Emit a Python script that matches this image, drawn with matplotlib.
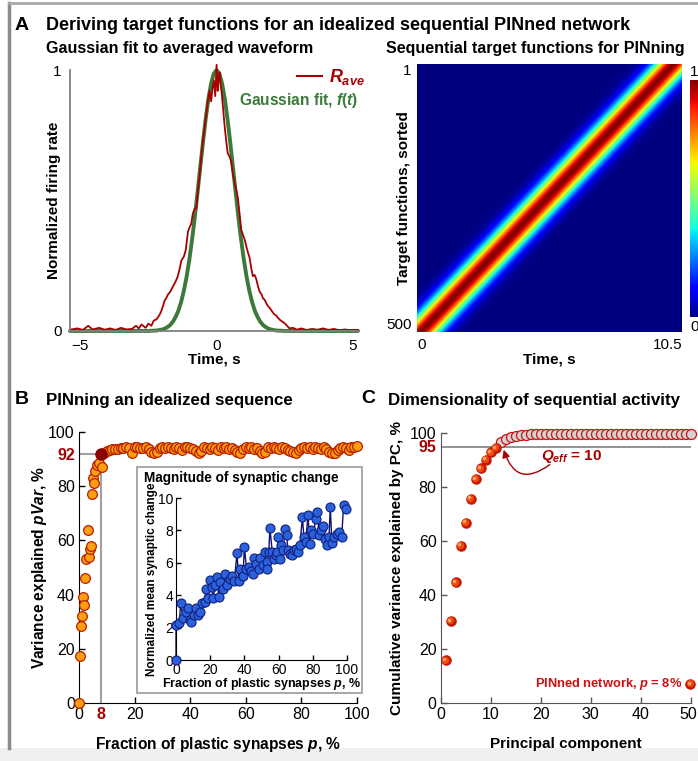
import numpy as np
import matplotlib
matplotlib.use("Agg")
import matplotlib.pyplot as plt
from matplotlib.patches import Rectangle
from matplotlib.transforms import offset_copy, ScaledTranslation

plt.rcParams['font.family'] = ['Liberation Sans', 'DejaVu Sans']
plt.rcParams['mathtext.fontset'] = 'custom'
plt.rcParams['mathtext.it'] = 'Liberation Sans:italic:bold'
plt.rcParams['mathtext.rm'] = 'Liberation Sans:bold'
plt.rcParams['mathtext.bf'] = 'Liberation Sans:bold'

# ---------------- data ----------------
# Panel A left: averaged waveform R_ave
rave_t = [-5.37, -5.1, -4.9, -4.7, -4.55, -4.3, -4.1, -3.9, -3.7, -3.5, -3.3, -3.1, -2.95, -2.85,
          -2.75, -2.6, -2.5, -2.39, -2.3, -2.2, -2.1, -2.03, -1.95, -1.9, -1.85, -1.78, -1.7, -1.6,
          -1.5, -1.42, -1.35, -1.29, -1.2, -1.13, -1.05, -0.98, -0.93, -0.87, -0.8, -0.74, -0.68,
          -0.62, -0.56, -0.5, -0.44, -0.38, -0.32, -0.26, -0.2, -0.15, -0.1, -0.05, 0.0, 0.04, 0.08,
          0.11, 0.15, 0.19, 0.24, 0.29, 0.35, 0.41, 0.47, 0.53, 0.6, 0.66, 0.72, 0.78, 0.84, 0.9,
          0.96, 1.03, 1.1, 1.15, 1.21, 1.27, 1.33, 1.39, 1.45, 1.52, 1.58, 1.65, 1.7, 1.76, 1.85,
          1.93, 2.0, 2.1, 2.18, 2.25, 2.35, 2.42, 2.49, 2.58, 2.67, 2.8, 2.95, 3.1, 3.3, 3.5, 3.7,
          3.9, 4.1, 4.3, 4.5, 4.7, 4.9, 5.18]
rave_v = [0.005, 0.01, 0.004, 0.02, 0.006, 0.012, 0.005, 0.01, 0.004, 0.012, 0.006, 0.008, 0.02, 0.01,
          0.025, 0.012, 0.028, 0.02, 0.04, 0.045, 0.06, 0.075, 0.1, 0.118, 0.125, 0.14, 0.15, 0.17,
          0.19, 0.21, 0.24, 0.27, 0.285, 0.31, 0.38, 0.4, 0.41, 0.45, 0.47, 0.47, 0.54,
          0.6, 0.67, 0.73, 0.78, 0.83, 0.88, 0.92, 0.88, 0.93, 0.96, 0.9, 1.02, 0.92, 0.97,
          0.99, 0.94, 0.91, 0.85, 0.79, 0.73, 0.68, 0.67, 0.65, 0.6, 0.57, 0.54, 0.51, 0.45, 0.39,
          0.37, 0.35, 0.32, 0.3, 0.28, 0.24, 0.21, 0.215, 0.2, 0.17, 0.15, 0.14, 0.125, 0.12, 0.1,
          0.09, 0.08, 0.065, 0.06, 0.05, 0.04, 0.035, 0.03, 0.02, 0.01, 0.012, 0.005, 0.01, 0.004, 0.008, 0.005,
          0.01, 0.004, 0.008, 0.003, 0.006, 0.003, 0.004]
# Gaussian fit f(t)
fit_t = [-5.37, -2.5, -2.2, -2.0, -1.9, -1.8, -1.7, -1.6, -1.5, -1.4, -1.3, -1.2, -1.1, -1.0, -0.9,
         -0.8, -0.7, -0.6, -0.5, -0.4, -0.3, -0.2, -0.1, 0.0, 0.1, 0.2, 0.3, 0.4, 0.5, 0.6, 0.7, 0.8,
         0.9, 1.0, 1.1, 1.2, 1.3, 1.4, 1.5, 1.6, 1.7, 1.8, 1.9, 2.0, 2.2, 2.5, 5.18]
fit_v = [0.0, 0.0003, 0.0018, 0.0055, 0.009, 0.015, 0.023, 0.036, 0.054, 0.078, 0.111, 0.154, 0.207,
         0.272, 0.349, 0.435, 0.529, 0.626, 0.722, 0.812, 0.890, 0.949, 0.987, 1.0, 0.987, 0.949, 0.890,
         0.812, 0.722, 0.626, 0.529, 0.435, 0.349, 0.272, 0.207, 0.154, 0.111, 0.078, 0.054, 0.036,
         0.023, 0.015, 0.009, 0.0055, 0.0018, 0.0003, 0.0]

# Panel A right: sequence of 500 target functions (shifted copies of f(t))
n_targets = 500
seq_duration = 10.5
first_peak, last_peak = 10.2, 0.15   # peak time of target 1 and target 500
target_time_scale = 0.85             # apparent width of the target functions relative to f(t)

# Panel B: pVar vs fraction of plastic synapses
p_frac = [0, 0.36, 0.72, 1.2, 1.44, 1.9, 2.2, 2.6, 3.2, 3.6, 3.8, 4.4, 4.8, 5.0, 5.4, 5.9, 6.4, 7.2, 8.2] + \
         list(range(9, 101))
pvar = [0, 17.5, 28.5, 32, 39, 36, 46, 53, 64, 54, 57, 58, 77, 83, 81, 85.5, 87.8, 88.5, 87.0,
        92.3, 92.9, 93.4, 93.6, 93.9, 93.8, 94.2, 94.0, 94.4, 94.1, 92.4, 94.3, 94.5, 94.2, 94.0, 94.4,
        93.7, 92.6, 92.3, 92.8, 94.1, 94.3, 94.0, 94.5, 94.2, 93.8, 94.4, 94.1, 93.5, 94.3, 94.5, 94.0,
        93.6, 92.9, 92.2, 93.1, 94.4, 94.2, 93.9, 94.5, 94.1, 93.4, 94.3, 94.0, 94.4, 93.7, 94.2, 93.2,
        92.5, 92.3, 93.6, 94.4, 94.1, 94.5, 93.9, 94.2, 93.0, 92.4, 92.8, 94.3, 94.0, 94.6, 94.2, 93.8,
        94.4, 94.1, 93.5, 92.9, 92.5, 92.3, 93.4, 94.2, 94.5, 94.0, 94.3, 93.7, 94.4, 94.1, 93.6, 94.3,
        93.8, 92.8, 92.4, 92.2, 93.5, 94.1, 94.4, 94.0, 93.2, 94.3, 94.6, 95.0]
p_best, pvar_best = 8, 92

# Inset: normalized mean synaptic change
syn_p = [0, 0, 2.0, 2.7, 4.3, 5.7, 7.25, 8.2, 9, 10.6, 11.8, 12.9, 14.1, 15.1, 16.7, 17.6, 19, 19.6,
         21, 21.6, 23, 24, 25, 25.9, 27.3, 28.6, 29.8, 31.4, 32.7, 34.1, 35.7, 36.6, 37.6, 39.2, 40,
         41.2, 42.5, 43.9, 45.1, 45.5, 47, 48.4, 49.4, 51, 51.8, 53, 53.3, 54.3, 54.9, 56.3, 57.2,
         58.2, 59.2, 59.8, 60.8, 61.6, 62.7, 63.7, 64.7, 65.5, 66.7, 68, 69, 70.4, 71.4, 72.5, 73.9,
         74.8, 75.8, 77.2, 78.2, 79.2, 80.4, 81.7, 82.7, 83.7, 84.6, 86, 87, 88.2, 89.5, 90.2, 91.2,
         92.5, 94.1, 95.5, 96.9, 98, 99.4]
syn_v = [0, 2.15, 2.26, 3.49, 2.57, 2.98, 3.18, 2.47, 2.36, 2.77, 3.18, 2.77, 2.98, 3.49, 3.59, 4.41,
         3.8, 4.93, 4.5, 3.8, 4.6, 5.1, 3.9, 4.8, 4.4, 5.3, 4.6, 5.0, 5.2, 4.9, 6.6, 4.9, 5.64, 5.2,
         7.0, 5.64, 5.75, 5.5, 5.3, 6.3, 5.9, 5.64, 6.3, 5.85, 6.67, 6.05, 5.64, 6.65, 8.15, 6.67, 6.25,
         6.47, 6.67, 7.6, 6.25, 7.08, 6.77, 8.07, 7.7, 6.77, 6.57, 6.47, 6.77, 6.88, 6.67, 7.08, 8.83,
         7.6, 7.29, 8.93, 7.19, 8.0, 7.8, 8.73, 9.14, 7.7, 8.0, 8.3, 7.5, 7.1, 7.6, 9.45, 7.2,
         7.6, 7.8, 7.9, 7.6, 9.55, 9.35]

# Panel C: cumulative variance explained by PC
pc_index = list(range(1, 51))
cum_var = [15.8, 30.3, 44.7, 58.2, 66.8, 75.6, 82.9, 86.9, 90.1, 92.8, 94.4,
           96.5, 97.6, 98.4, 98.9, 99.2, 99.4, 99.5, 99.5, 99.6, 99.6, 99.6, 99.7, 99.7, 99.7,
           99.7, 99.7, 99.8, 99.8, 99.8, 99.8, 99.8, 99.8, 99.8, 99.8, 99.8, 99.8, 99.8, 99.8,
           99.8, 99.8, 99.8, 99.8, 99.8, 99.8, 99.8, 99.8, 99.8, 99.8, 99.8]
n_red_pcs = 11
thresh = 95

# ---------------- figure ----------------
W, H = 698, 761
fig = plt.figure(figsize=(W / 100, H / 100), dpi=100)
fig.patch.set_facecolor('white')


def ax_px(l, t, r, b, **kw):
    return fig.add_axes([l / W, 1 - b / H, (r - l) / W, (b - t) / H], **kw)


def ftext(x, y, s, **kw):
    fig.text(x / W, 1 - y / H, s, **kw)


def fline(x0, y0, x1, y1, **kw):
    fig.add_artist(plt.Line2D([x0 / W, x1 / W], [1 - y0 / H, 1 - y1 / H],
                              transform=fig.transFigure, **kw))


def label_pos(ax, axis, px):
    # place axis label centre at a pixel position (x for y-label, y for x-label)
    bb = ax.get_position()
    if axis == 'y':
        l = bb.x0 * W; w = bb.width * W
        ax.yaxis.set_label_coords((px - l) / w, 0.5)
        ax.yaxis.label.set_va('center')
    else:
        b = (1 - bb.y0) * H; h = bb.height * H
        ax.xaxis.set_label_coords(0.5, -(px - b) / h)
        ax.xaxis.label.set_va('center')


# frame
fig.add_artist(Rectangle((0, 0), 1, 13 / H, transform=fig.transFigure, facecolor='#F0F0F0',
                         edgecolor='none', zorder=-5))
fline(9, 748, 9, 3, color='#8C8C8C', lw=2.5)
fline(9, 3, 698, 3, color='#A8A8A8', lw=2)

RED = '#A80000'
LBL = 11

# titles
ftext(22, 25, 'A', fontsize=14, fontweight='bold', va='center', ha='center')
ftext(46, 25, 'Deriving target functions for an idealized sequential PINned network',
      fontsize=13, fontweight='bold', va='center')
ftext(46, 48, 'Gaussian fit to averaged waveform', fontsize=11.6, fontweight='bold', va='center')
ftext(535, 48, 'Sequential target functions for PINning', fontsize=11.5, fontweight='bold',
      va='center', ha='center')
ftext(22, 400, 'B', fontsize=14, fontweight='bold', va='center', ha='center')
ftext(46, 401, 'PINning an idealized sequence', fontsize=12.2, fontweight='bold', va='center')
ftext(368, 399, 'C', fontsize=14, fontweight='bold', va='center', ha='center')
ftext(388, 401, 'Dimensionality of sequential activity', fontsize=12.2, fontweight='bold', va='center')

# ---- Panel A left ----
axA = ax_px(70, 70, 358, 331)
axA.plot(fit_t, fit_v, color='#3B7A3B', lw=2.8, solid_capstyle='round', clip_on=False)
axA.plot(rave_t, rave_v, color=RED, lw=1.3, clip_on=False)
axA.set_xlim(-5.37, 5.18)
axA.set_ylim(0, 1)
axA.set_xticks([-5, 0, 5])
axA.set_xticklabels(['\u22125', '0', '5'])
axA.set_yticks([0, 1])
axA.tick_params(length=0, labelsize=11, pad=6)
for s in ['top', 'right']:
    axA.spines[s].set_visible(False)
for s in ['left', 'bottom']:
    axA.spines[s].set_color('#808080')
    axA.spines[s].set_linewidth(1.3)
axA.set_xlabel('Time, s', fontsize=LBL, fontweight='bold')
axA.set_ylabel('Normalized firing rate', fontsize=LBL, fontweight='bold')
label_pos(axA, 'y', 54)
label_pos(axA, 'x', 360)
# legend (pixel positions)
fline(297, 76, 322, 76, color=RED, lw=1.5)
ftext(329, 77, r'$R_{ave}$', fontsize=13, color=RED, va='center', ha='left')
ftext(358, 100, r'Gaussian fit, $f(t)$', fontsize=11.2, fontweight='bold', color='#3B7A3B',
      va='center', ha='right')

# ---- Panel A right ----
axH = ax_px(417, 64, 682, 332)
t_grid = np.linspace(0, seq_duration, 600)
peaks = np.linspace(first_peak, last_peak, n_targets)
M = np.array([np.interp((t_grid - c) / target_time_scale, fit_t, fit_v) for c in peaks])
axH.imshow(M, aspect='auto', cmap='jet', vmin=0, vmax=1, interpolation='bilinear',
           extent=[0, seq_duration, n_targets + 0.5, 0.5])
axH.set_xticks([0, seq_duration])
axH.set_xticklabels(['0', '10.5'])
axH.set_yticks([1, n_targets])
axH.set_yticklabels(['1', '500'])
axH.tick_params(length=0, labelsize=11, pad=4)
xl = axH.get_xticklabels()
xl[0].set_ha('left'); xl[1].set_ha('right')
yl = axH.get_yticklabels()
yl[0].set_va('top'); yl[1].set_va('bottom')
for s in axH.spines.values():
    s.set_visible(False)
axH.set_xlabel('Time, s', fontsize=LBL, fontweight='bold')
axH.set_ylabel('Target functions, sorted', fontsize=LBL, fontweight='bold')
label_pos(axH, 'y', 404)
label_pos(axH, 'x', 360)

axCB = ax_px(690, 80, 700, 317)
axCB.imshow(np.linspace(1, 0, 256)[:, None], aspect='auto', cmap='jet', extent=[0, 1, 0, 1])
axCB.set_axis_off()
ftext(690, 72, '1', fontsize=11, va='center', ha='left')
ftext(690, 327, '0', fontsize=11, va='center', ha='left')

# ---- Panel B ----
axB = ax_px(79, 432, 357, 703)
axB.plot([0, p_best], [pvar_best, pvar_best], color='#A0A0A0', lw=1.5, zorder=1)
axB.plot([p_best, p_best], [0, pvar_best], color='#A0A0A0', lw=1.5, zorder=1)
axB.plot(p_frac, pvar, 'o', ms=7.0, mfc='#FF9F10', mec='#B82000', mew=0.9, clip_on=False, zorder=3)
axB.plot([p_best], [pvar_best], 'o', ms=8, mfc='#8B0000', mec='#8B0000', zorder=4)
axB.set_xlim(0, 100)
axB.set_ylim(0, 100)
axB.set_xticks([0, 8, 20, 40, 60, 80, 100])
axB.set_yticks([0, 20, 40, 60, 80, 92, 100])
axB.tick_params(direction='in', length=4, width=1, labelsize=11.5, pad=3)
for s in ['top', 'right']:
    axB.spines[s].set_visible(False)
for lab in axB.get_xticklabels() + axB.get_yticklabels():
    if lab.get_text() in ('8', '92'):
        lab.set_color(RED); lab.set_fontweight('bold')
axB.xaxis.get_major_ticks()[1].tick1line.set_visible(False)
axB.yaxis.get_major_ticks()[5].tick1line.set_visible(False)
axB.set_xlabel(r'Fraction of plastic synapses $p$, %', fontsize=11.2, fontweight='bold')
axB.set_ylabel(r'Variance explained $pVar$, %', fontsize=11.2, fontweight='bold')
label_pos(axB, 'y', 40)
label_pos(axB, 'x', 745)

# inset box
fig.add_artist(Rectangle((137 / W, 1 - 693 / H), (362 - 137) / W, (693 - 467) / H,
                         transform=fig.transFigure, facecolor='white', edgecolor='#A0A0A0', lw=1.3,
                         zorder=5))
ftext(144, 478, 'Magnitude of synaptic change', fontsize=9.8, fontweight='bold', va='center', zorder=7)
axI = ax_px(176, 498, 347, 660)
axI.set_zorder(6)
axI.patch.set_alpha(0)
axI.plot(syn_p, syn_v, '-', color='#101070', lw=1.0, zorder=2, clip_on=False)
axI.plot(syn_p, syn_v, 'o', ms=6.5, mfc='#2B62DB', mec='#102080', mew=0.8, zorder=3, clip_on=False)
axI.set_xlim(0, 100)
axI.set_ylim(0, 10)
axI.set_xticks([0, 20, 40, 60, 80, 100])
axI.set_yticks([0, 2, 4, 6, 8, 10])
axI.tick_params(direction='in', length=3.5, width=1, labelsize=10, pad=2)
for s in ['top', 'right']:
    axI.spines[s].set_visible(False)
axI.set_xlabel(r'Fraction of plastic synapses $p$, %', fontsize=9, fontweight='bold')
axI.set_ylabel('Normalized mean synaptic change', fontsize=8.5, fontweight='bold')
label_pos(axI, 'y', 152)
label_pos(axI, 'x', 684)

# ---- Panel C ----
axC = ax_px(440.7, 433, 690.7, 703)
axC.axhline(thresh, color='#808080', lw=1.2, zorder=1)
grey_x, grey_y = pc_index[n_red_pcs:], cum_var[n_red_pcs:]
axC.plot(grey_x, grey_y, 'o', ms=7.2, mfc='#D3D3D3', mec='#D01010', mew=0.9, zorder=3, clip_on=False)
red_x, red_y = pc_index[:n_red_pcs], cum_var[:n_red_pcs]


def spheres(ax, xs, ys, size, clip=True):
    ax.plot(xs, ys, 'o', ms=size, mfc='#C81800', mec='#B01000', mew=0.3, zorder=4, clip_on=clip)
    tr1 = offset_copy(ax.transData, fig=fig, x=-0.7, y=0.7, units='dots')
    ax.plot(xs, ys, 'o', ms=size * 0.72, mfc='#EE4A10', mec='none', transform=tr1, zorder=5, clip_on=clip)
    tr2 = offset_copy(ax.transData, fig=fig, x=-1.6, y=1.6, units='dots')
    ax.plot(xs, ys, 'o', ms=size * 0.35, mfc='#FFA060', mec='none', transform=tr2, zorder=6, clip_on=clip)


spheres(axC, red_x, red_y, 7.2)
spheres(axC, [49.9], [7.0], 7.2, clip=False)
axC.text(48.3, 7.0, r'PINned network, $p$ = 8%', color='#D01010', fontsize=9.3, fontweight='bold',
         ha='right', va='center')
axC.set_xlim(0, 50)
axC.set_ylim(0, 100)
axC.set_xticks([0, 10, 20, 30, 40, 50])
axC.set_yticks([0, 20, 40, 60, 80, 95, 100])
axC.tick_params(direction='in', length=4, width=1, labelsize=11.5, pad=3, color='#555555')
for lab in axC.get_yticklabels():
    if lab.get_text() == '95':
        lab.set_color(RED); lab.set_fontweight('bold')
last = axC.get_xticklabels()[-1]
last.set_transform(last.get_transform() + ScaledTranslation(-2.5 / 100, 0, fig.dpi_scale_trans))
axC.yaxis.get_major_ticks()[5].tick1line.set_visible(False)
for s in ['top', 'right']:
    axC.spines[s].set_visible(False)
for s in ['left', 'bottom']:
    axC.spines[s].set_color('#555555')
axC.set_xlabel('Principal component', fontsize=LBL, fontweight='bold')
axC.set_ylabel('Cumulative variance explained by PC, %', fontsize=LBL, fontweight='bold')
label_pos(axC, 'y', 397)
label_pos(axC, 'x', 744)
axC.text(20.0, 91.3, r'$Q_{eff}$ = 10', color=RED, fontsize=11, fontweight='bold', va='center')
axC.annotate('', xy=(12.6, 93.8), xytext=(21.8, 88.3),
             arrowprops=dict(arrowstyle='-|>,head_length=0.45,head_width=0.22', color=RED, lw=1.0,
                             connectionstyle='arc3,rad=-0.7', shrinkA=0, shrinkB=0))

fig.savefig('out.png', dpi=100)
